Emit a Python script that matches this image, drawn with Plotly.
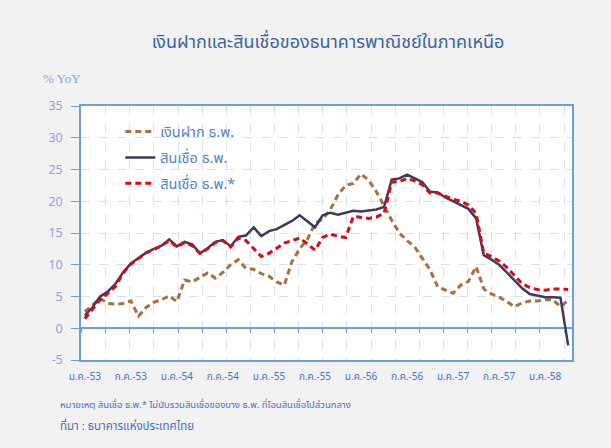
import plotly.graph_objects as go

# ---------------- data ----------------
months = list(range(64))  # Jan 2010 (ม.ค.-53) .. Apr 2015
tick_idx = [0, 6, 12, 18, 24, 30, 36, 42, 48, 54, 60]
tick_labels = ["ม.ค.-53", "ก.ค.-53", "ม.ค.-54", "ก.ค.-54", "ม.ค.-55", "ก.ค.-55",
               "ม.ค.-56", "ก.ค.-56", "ม.ค.-57", "ก.ค.-57", "ม.ค.-58"]

deposits = [2.6, 3.6, 4.7, 3.9, 3.8, 3.9, 4.3, 1.9, 3.3, 4.1,
            4.5, 5.1, 4.2, 7.6, 7.3, 8.0, 8.7, 7.9, 8.8, 10.0,
            10.8, 9.4, 9.3, 8.6, 8.2, 7.3, 6.8, 10.5, 12.5, 14.0,
            16.5, 17.2, 18.7, 21.0, 22.5, 22.8, 24.3, 23.3, 21.5, 19.3,
            17.0, 15.0, 13.8, 12.8, 11.0, 9.2, 6.5, 6.0, 5.5, 6.8,
            7.4, 9.7, 6.2, 5.4, 4.9, 4.2, 3.4, 4.0, 4.3, 4.3,
            4.5, 4.5, 3.4, 4.4]

loans = [2.0, 3.3, 5.0, 5.8, 7.0, 8.8, 10.2, 11.0, 11.9, 12.5,
         13.0, 14.0, 12.9, 13.6, 13.2, 11.8, 12.6, 13.6, 13.9, 12.9,
         14.4, 14.6, 15.9, 14.5, 15.3, 15.6, 16.3, 16.9, 17.8, 16.8,
         15.9, 17.8, 18.2, 17.9, 18.2, 18.5, 18.4, 18.5, 18.7, 19.1,
         23.4, 23.6, 24.2, 23.6, 23.0, 21.5, 21.4, 20.6, 20.0, 19.5,
         18.8, 17.3, 11.5, 10.8, 10.0, 8.8, 7.6, 6.3, 5.4, 5.1,
         4.9, 4.9, 4.8, -2.7]

loans_adj = [1.5, 3.0, 4.5, 5.5, 6.6, 8.7, 10.1, 11.0, 11.9, 12.4,
             13.0, 13.8, 12.8, 13.5, 13.0, 11.8, 12.5, 13.5, 13.8, 12.8,
             14.2, 13.8, 12.5, 11.3, 11.8, 12.6, 13.4, 13.8, 14.2, 13.3,
             12.3, 14.3, 14.8, 14.5, 14.3, 17.6, 17.5, 17.3, 17.5, 18.1,
             23.0, 23.1, 23.6, 23.2, 22.6, 21.3, 21.3, 20.8, 20.3, 20.0,
             19.4, 18.1, 11.8, 11.3, 10.6, 9.6, 8.3, 7.0, 6.4, 6.1,
             6.0, 6.2, 6.2, 6.1]

series_names = ["เงินฝาก ธ.พ.", "สินเชื่อ ธ.พ.", "สินเชื่อ ธ.พ.*"]

# ---------------- styles ----------------
FONT = "Tahoma, 'Noto Sans Thai', 'Noto Sans', 'DejaVu Sans', sans-serif"
AXIS_BLUE = "#6f9be0"
GRID = "#d3e1f4"
TICK_TXT = "#8ea5d8"

fig = go.Figure()
fig.add_trace(go.Scatter(x=months, y=deposits, name=series_names[0], mode="lines",
                         line=dict(color="#a6703f", width=3, dash="6px,4px"),
                         legendgroup="a"))
fig.add_trace(go.Scatter(x=months, y=loans, name=series_names[1], mode="lines",
                         line=dict(color="#3e3a5e", width=2.5),
                         legendgroup="b"))
fig.add_trace(go.Scatter(x=months, y=loans_adj, name=series_names[2], mode="lines",
                         line=dict(color="#dc0a10", width=3, dash="6px,4px"),
                         legendgroup="c"))
# helper trace for the secondary (gridline) axis
fig.add_trace(go.Scatter(x=[], y=[], xaxis="x2", showlegend=False, hoverinfo="skip"))

fig.update_layout(
    width=611, height=448,
    margin=dict(l=81, r=39, t=106, b=88),
    paper_bgcolor="#f2f2f2",
    plot_bgcolor="#ffffff",
    font=dict(family=FONT, color=TICK_TXT),
    showlegend=True,
    title=dict(text="เงินฝากและสินเชื่อของธนาคารพาณิชย์ในภาคเหนือ",
               x=328 / 611, xanchor="center", y=1 - 42 / 448, yanchor="middle",
               font=dict(size=18, color="#3d63a3", family=FONT)),
    legend=dict(x=0.08, y=0.962, xanchor="left", yanchor="top",
                bgcolor="rgba(0,0,0,0)", font=dict(size=14.5, color="#5a80cc"),
                tracegroupgap=4, itemwidth=30),
    xaxis=dict(range=[-0.5, 63.5], tickmode="array", tickvals=tick_idx, ticktext=tick_labels,
               showgrid=False, zeroline=False, showline=True, linecolor=AXIS_BLUE,
               linewidth=1.5, mirror=True, ticks="", ticklabelstandoff=6,
               tickfont=dict(size=10, color="#4a72c0")),
    xaxis2=dict(overlaying="x", anchor="free", position=0.125, range=[-0.023, 20.33],
                tick0=0, dtick=1, showgrid=True, gridcolor=GRID, griddash="dash",
                gridwidth=1, showticklabels=False, ticks="outside", ticklen=4,
                tickcolor=AXIS_BLUE, showline=False, zeroline=False),
    yaxis=dict(range=[-5, 35], dtick=5, showgrid=True, gridcolor=GRID, griddash="dash",
               zeroline=True, zerolinecolor=AXIS_BLUE, zerolinewidth=1.5,
               showline=True, linecolor=AXIS_BLUE, linewidth=1.5, mirror=True,
               ticks="outside", ticklen=8, tickcolor=AXIS_BLUE, ticklabelstandoff=6,
               tickfont=dict(size=12.5, color=TICK_TXT)),
    annotations=[
        dict(text="% YoY", xref="paper", yref="paper", x=-40 / 491, y=1 + 28 / 254,
             xanchor="left", yanchor="middle", showarrow=False,
             font=dict(size=13, color=TICK_TXT, family="'Liberation Serif', serif")),
        dict(text="หมายเหตุ สินเชื่อ ธ.พ.* ไม่นับรวมสินเชื่อของบาง ธ.พ. ที่โอนสินเชื่อไปส่วนกลาง",
             xref="paper", yref="paper", x=-23 / 491, y=-45 / 254,
             xanchor="left", yanchor="middle", showarrow=False,
             font=dict(size=9.5, color="#4a6fc0")),
        dict(text="ที่มา : ธนาคารแห่งประเทศไทย",
             xref="paper", yref="paper", x=-23 / 491, y=-66 / 254,
             xanchor="left", yanchor="middle", showarrow=False,
             font=dict(size=11.5, color="#4a6fc0")),
    ],
)

fig.write_html("out.html", config={"displayModeBar": False},
               post_script="document.body.style.margin='0';document.body.style.background='#f2f2f2';")
